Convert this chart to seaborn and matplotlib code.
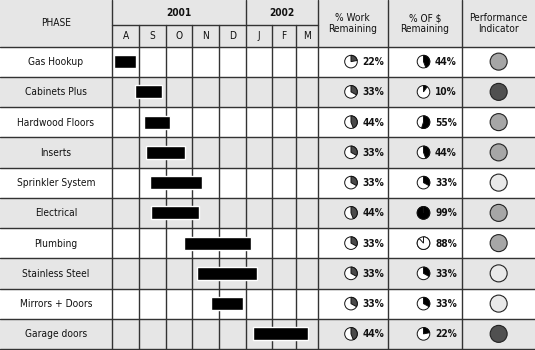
import numpy as np
import pandas as pd
import matplotlib
matplotlib.use("Agg")
import matplotlib.pyplot as plt
from matplotlib.patches import Wedge, Circle, Rectangle
from matplotlib import font_manager
import seaborn as sns

# ---------------- data ----------------
phases = ["Gas Hookup", "Cabinets Plus", "Hardwood Floors", "Inserts", "Sprinkler System",
          "Electrical", "Plumbing", "Stainless Steel", "Mirrors + Doors", "Garage doors"]
# start / end in months since 1 Aug 2001
start_month = [0.06, 0.84, 1.20, 1.27, 1.41, 1.46, 2.70, 3.18, 3.69, 5.27]
end_month = [0.89, 1.87, 2.17, 2.73, 3.35, 3.26, 5.20, 5.42, 4.91, 7.58]
work_remaining = [22, 33, 44, 33, 33, 44, 33, 33, 33, 44]
cost_remaining = [44, 10, 55, 44, 33, 99, 88, 33, 33, 22]
performance = ["medium", "dark", "medium", "medium", "light",
               "medium", "medium", "light", "light", "dark"]
months = ["A", "S", "O", "N", "D", "J", "F", "M"]
years = ["2001", "2002"]
months_per_year = [5, 3]

# ---------------- style ----------------
sns.set_theme(style="white")
avail = {f.name for f in font_manager.fontManager.ttflist}
fam = [f for f in ["Liberation Sans Narrow", "DejaVu Sans"] if f in avail]
plt.rcParams["font.family"] = fam
stretch = "normal" if fam[0] != "DejaVu Sans" else "condensed"

W, H = 535, 350
fig = plt.figure(figsize=(W / 100, H / 100), dpi=100)
ax = fig.add_axes([0, 0, 1, 1])
ax.set_xlim(0, W)
ax.set_ylim(H, 0)
ax.axis("off")

line_c = "#333333"
grey_bg = "#e6e6e6"
lw = 1.0

# layout (pixels)
month_edges = np.array([112.3, 139.0, 165.7, 192.3, 219.0, 245.7, 272.3, 295.7, 317.5])
col_work = (317.5, 387.7)
col_cost = (387.7, 462.3)
col_perf = (462.3, 535.0)
head_top, year_bot, head_bot, table_bot = 0.0, 24.5, 46.5, 349.0
n = len(phases)
row_h = (table_bot - head_bot) / n
row_c = [head_bot + row_h * (i + 0.5) for i in range(n)]

# backgrounds
ax.add_patch(Rectangle((0, head_top), W, head_bot - head_top, color=grey_bg, zorder=0))
for i in range(n):
    if i % 2 == 1:
        ax.add_patch(Rectangle((0, head_bot + i * row_h), W, row_h, color=grey_bg, zorder=0))

# grid lines
for i in range(n + 1):
    ax.plot([0, W], [head_bot + i * row_h] * 2, color=line_c, lw=lw, zorder=1)
ax.plot([month_edges[0], month_edges[-1]], [year_bot] * 2, color=line_c, lw=lw, zorder=1)
for x in [month_edges[0], month_edges[5], col_work[0], col_cost[0], col_perf[0]]:
    ax.plot([x, x], [head_top, table_bot], color=line_c, lw=lw, zorder=1)
for k, x in enumerate(month_edges[1:-1]):
    if k + 1 != 5:
        ax.plot([x, x], [year_bot, table_bot], color=line_c, lw=lw, zorder=1)

fs = 7.3
tkw = dict(fontsize=fs, color="#111111", fontstretch=stretch)
# header text
ax.text(56, 23.5, "PHASE", ha="center", va="center", **tkw)
k0 = 0
for yname, cnt in zip(years, months_per_year):
    xc = (month_edges[k0] + month_edges[k0 + cnt]) / 2
    ax.text(xc, 13, yname, ha="center", va="center", weight="bold", **tkw)
    k0 += cnt
for k, m in enumerate(months):
    ax.text((month_edges[k] + month_edges[k + 1]) / 2, 36, m, ha="center", va="center", **tkw)
for col, lab in [(col_work, "% Work\nRemaining"), (col_cost, "% OF \\$\nRemaining"),
                 (col_perf, "Performance\nIndicator")]:
    ax.text(sum(col) / 2, 23.5, lab, ha="center", va="center", linespacing=1.05, **tkw)

# phase names
for i, p in enumerate(phases):
    ax.text(56, row_c[i] + 0.5, p, ha="center", va="center", **tkw)

# pies (y axis is inverted, so data angles are mirrored on screen)
def pie(cx, cy, pct, color, r=6.3):
    ax.add_patch(Circle((cx, cy), r, facecolor="white", edgecolor="#111111", lw=0.7, zorder=3))
    ax.add_patch(Wedge((cx, cy), r, -90, -90 + pct * 3.6, facecolor=color,
                       edgecolor="#111111", lw=0.7, zorder=4))

for i in range(n):
    cy = row_c[i]
    pie(351, cy, work_remaining[i], "#4a4a4a")
    ax.text(362.5, cy + 0.5, f"{work_remaining[i]}%", ha="left", va="center", weight="bold", **tkw)
    cost_fill = "white" if cost_remaining[i] == 88 else "black"
    pie(423.5, cy, cost_remaining[i], cost_fill)
    ax.text(435, cy + 0.5, f"{cost_remaining[i]}%", ha="left", va="center", weight="bold", **tkw)

# performance indicators
perf_colors = {"light": "#e9e9e9", "medium": "#a6a6a6", "dark": "#505050"}
perf_df = pd.DataFrame({"x": [sum(col_perf) / 2] * n, "y": row_c, "level": performance})
sns.scatterplot(data=perf_df, x="x", y="y", hue="level", palette=perf_colors, s=150,
                edgecolor="#222222", linewidth=0.8, legend=False, ax=ax, zorder=5)
ax.set_xlim(0, W)
ax.set_ylim(H, 0)
ax.axis("off")

# gantt axes over the month columns
gx = fig.add_axes([month_edges[0] / W, 1 - table_bot / H,
                   (month_edges[-1] - month_edges[0]) / W, (table_bot - head_bot) / H])
gx.patch.set_alpha(0)
idx = np.arange(len(month_edges))
gx.set_xscale("function", functions=(lambda v: np.interp(v, idx, month_edges),
                                     lambda v: np.interp(v, month_edges, idx)))
gantt = pd.DataFrame({"phase": phases, "start": start_month, "end": end_month})
gx.barh(np.arange(n), gantt["end"] - gantt["start"], left=gantt["start"], height=0.43,
        color="black", zorder=3)
gx.set_xlim(0, len(months))
gx.set_ylim(n - 0.5, -0.5)
gx.axis("off")

fig.savefig("out.png", dpi=100)
